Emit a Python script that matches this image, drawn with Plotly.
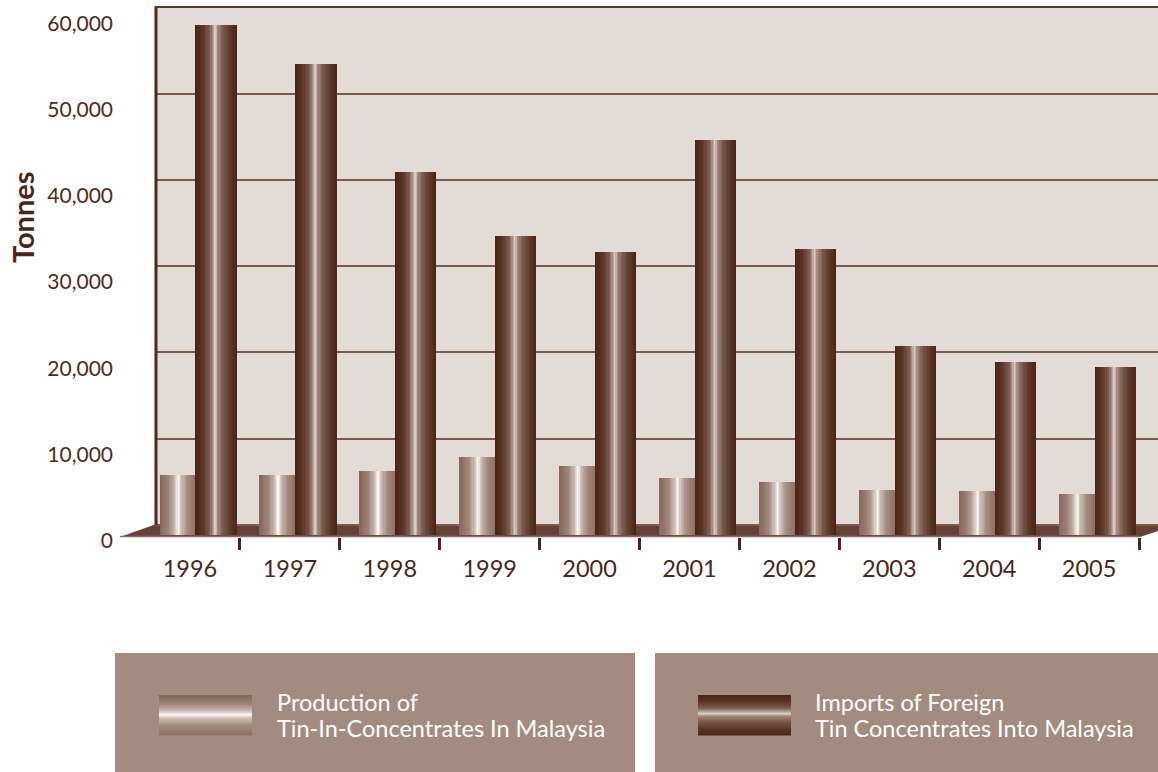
import plotly.graph_objects as go

# ---------------- data ----------------
years = ['1996', '1997', '1998', '1999', '2000', '2001', '2002', '2003', '2004', '2005']
production = [6950, 6950, 7420, 9040, 8000, 6600, 6140, 5210, 5100, 4750]
imports = [59100, 54580, 42060, 34650, 32790, 45770, 33140, 21900, 20050, 19470]
y_tickvals = [0, 10000, 20000, 30000, 40000, 50000, 60000]
y_ticktext = ['0', '10,000', '20,000', '30,000', '40,000', '50,000', '60,000']
legend_lines_prod = ['Production of', 'Tin-In-Concentrates In Malaysia']
legend_lines_imp = ['Imports of Foreign', 'Tin Concentrates Into Malaysia']
axis_title = 'Tonnes'

# ---------------- geometry (pixels) ----------------
W, H = 1158, 772
L, R, T, B = 155, 0, 7, 235
PW, PH = W - L - R, H - T - B
PLOT_BOT = H - B          # 537
WALL_BASE = 525           # zero of the back wall
BAR_BASE = 535            # zero of the bars (front of floor)
PPU = 86.3 / 10000        # pixels per tonne
CAT_PX = 99.9             # pixels per category
CAT0_PX = 190             # pixel centre of first category

DARK = '#4a2618'
FONT = 'Lato'


def px(x):
    return (x - L) / PW


def py(y):
    return (PLOT_BOT - y) / PH


def hex2rgb(h):
    h = h.lstrip('#')
    return [int(h[i:i + 2], 16) for i in (0, 2, 4)]


def grad(stops, t):
    for (p0, c0), (p1, c1) in zip(stops, stops[1:]):
        if p0 <= t <= p1:
            f = (t - p0) / (p1 - p0) if p1 > p0 else 0
            a, b = hex2rgb(c0), hex2rgb(c1)
            return 'rgb(%d,%d,%d)' % tuple(round(a[i] + (b[i] - a[i]) * f) for i in range(3))
    return stops[-1][1]


prod_stops = [(0, '#85655a'), (0.25, '#9f8579'), (0.42, '#cbbab1'), (0.52, '#fbf8f5'),
              (0.60, '#cdbdb4'), (0.78, '#a38a7e'), (1, '#8e6f63')]
imp_stops = [(0, '#4a2515'), (0.18, '#5a3526'), (0.35, '#7b5b4e'), (0.44, '#b39e93'),
             (0.49, '#ddd1c9'), (0.55, '#a48c80'), (0.68, '#7a5a4c'), (0.86, '#5b3727'),
             (1, '#4b2516')]

fig = go.Figure()

N = 30
series = [
    (production, -0.30, 0.36, prod_stops),
    (imports, 0.06, 0.405, imp_stops),
]
for vals, off, w, stops in series:
    for k in range(N):
        sw = w / N
        fig.add_trace(go.Bar(
            x=years, y=vals,
            offset=off + k * sw,
            width=sw + (0.004 if k < N - 1 else 0),
            marker=dict(color=grad(stops, (k + 0.5) / N), line=dict(width=0)),
            hoverinfo='skip', showlegend=False, yaxis='y',
        ))

# anchor trace for the grid axis (invisible)
fig.add_trace(go.Scatter(x=[years[0]], y=[0], yaxis='y2', mode='markers',
                         marker=dict(opacity=0), hoverinfo='skip', showlegend=False))

shapes = []
# back wall
shapes.append(dict(type='rect', xref='paper', yref='paper', x0=px(L), x1=px(W + 5),
                   y0=py(WALL_BASE), y1=py(T), fillcolor='#e3dbd5', line=dict(width=0),
                   layer='below'))
# floor
floor_pts = [(L, WALL_BASE - 0.5), (W + 20, WALL_BASE - 0.5), (1140, PLOT_BOT), (120, PLOT_BOT)]
path = 'M ' + ' L '.join('%f,%f' % (px(a), py(b)) for a, b in floor_pts) + ' Z'
shapes.append(dict(type='path', xref='paper', yref='paper', path=path,
                   fillcolor='#654235', line=dict(width=0), layer='between'))
shapes.append(dict(type='line', xref='paper', yref='paper', x0=px(120), x1=px(1140),
                   y0=py(PLOT_BOT - 0.5), y1=py(PLOT_BOT - 0.5),
                   line=dict(color='#8a6b5f', width=1.5), layer='between'))
# left wall line and top border
shapes.append(dict(type='line', xref='paper', yref='paper', x0=px(L + 1), x1=px(L + 1),
                   y0=py(WALL_BASE), y1=py(T - 1), line=dict(color='#4d2a1c', width=3),
                   layer='above'))
shapes.append(dict(type='line', xref='paper', yref='paper', x0=px(L), x1=px(W + 5),
                   y0=py(T), y1=py(T), line=dict(color='#5c3b2f', width=2), layer='above'))

# legend boxes
boxes = [(115, 635, 159, 252, 275, prod_stops, legend_lines_prod),
         (655, W + 5, 698, 791, 813, imp_stops, legend_lines_imp)]
annotations = []
for bx0, bx1, sx0, sx1, tx, stops, lines in boxes:
    shapes.append(dict(type='rect', xref='paper', yref='paper', x0=px(bx0), x1=px(bx1),
                       y0=py(653), y1=py(H + 5), fillcolor='#a48b7f', line=dict(width=0),
                       layer='above'))
    M = 40
    top, bot = 695, 735
    hh = (bot - top) / M
    vstops = [(p * 0.9 + 0.1 * p * p, c) for p, c in stops]
    for j in range(M):
        shapes.append(dict(type='rect', xref='paper', yref='paper', x0=px(sx0), x1=px(sx1),
                           y0=py(top + j * hh), y1=py(top + (j + 1) * hh + 0.6),
                           fillcolor=grad(vstops, (j + 0.5) / M), line=dict(width=0),
                           layer='above'))
    for i, txt in enumerate(lines):
        annotations.append(dict(text=txt, xref='paper', yref='paper', x=px(tx), y=py(702 + 26 * i),
                                xanchor='left', yanchor='middle', showarrow=False,
                                font=dict(family=FONT, size=23.5, color='white')))

annotations.append(dict(text='<b>%s</b>' % axis_title, xref='paper', yref='paper',
                        x=px(22), y=py(217), textangle=-90, showarrow=False,
                        xanchor='center', yanchor='middle',
                        font=dict(family=FONT, size=29, color=DARK)))

fig.update_layout(
    width=W, height=H,
    margin=dict(l=L, r=R, t=T, b=B, pad=0),
    paper_bgcolor='white', plot_bgcolor='rgba(0,0,0,0)',
    barmode='overlay', bargap=0,
    showlegend=False,
    shapes=shapes, annotations=annotations,
    xaxis=dict(type='category', range=[(L - CAT0_PX) / CAT_PX, (W - R - CAT0_PX) / CAT_PX],
               tickson='boundaries', ticks='outside', ticklen=12, tickwidth=3,
               tickcolor=DARK, showline=False, showgrid=False, zeroline=False,
               ticklabelstandoff=15,
               tickfont=dict(family=FONT, size=23.5, color=DARK), anchor='y'),
    yaxis=dict(range=[(BAR_BASE - PLOT_BOT) / PPU, (BAR_BASE - T) / PPU], visible=False,
               domain=[0, 1], fixedrange=True),
    yaxis2=dict(range=[(WALL_BASE - PLOT_BOT) / PPU, (WALL_BASE - T) / PPU],
                overlaying='y', side='left', tickvals=y_tickvals, ticktext=y_ticktext,
                showgrid=True, gridcolor='#7a5a4f', gridwidth=1.6, zeroline=False,
                showline=False, ticks='', ticklabelstandoff=41, ticklabelshift=16,
                tickfont=dict(family=FONT, size=21, color='#4f2a1a')),
)

fig.write_html('out.html', config={'displayModeBar': False},
               post_script="document.body.style.margin='0';document.body.style.overflow='hidden';")
